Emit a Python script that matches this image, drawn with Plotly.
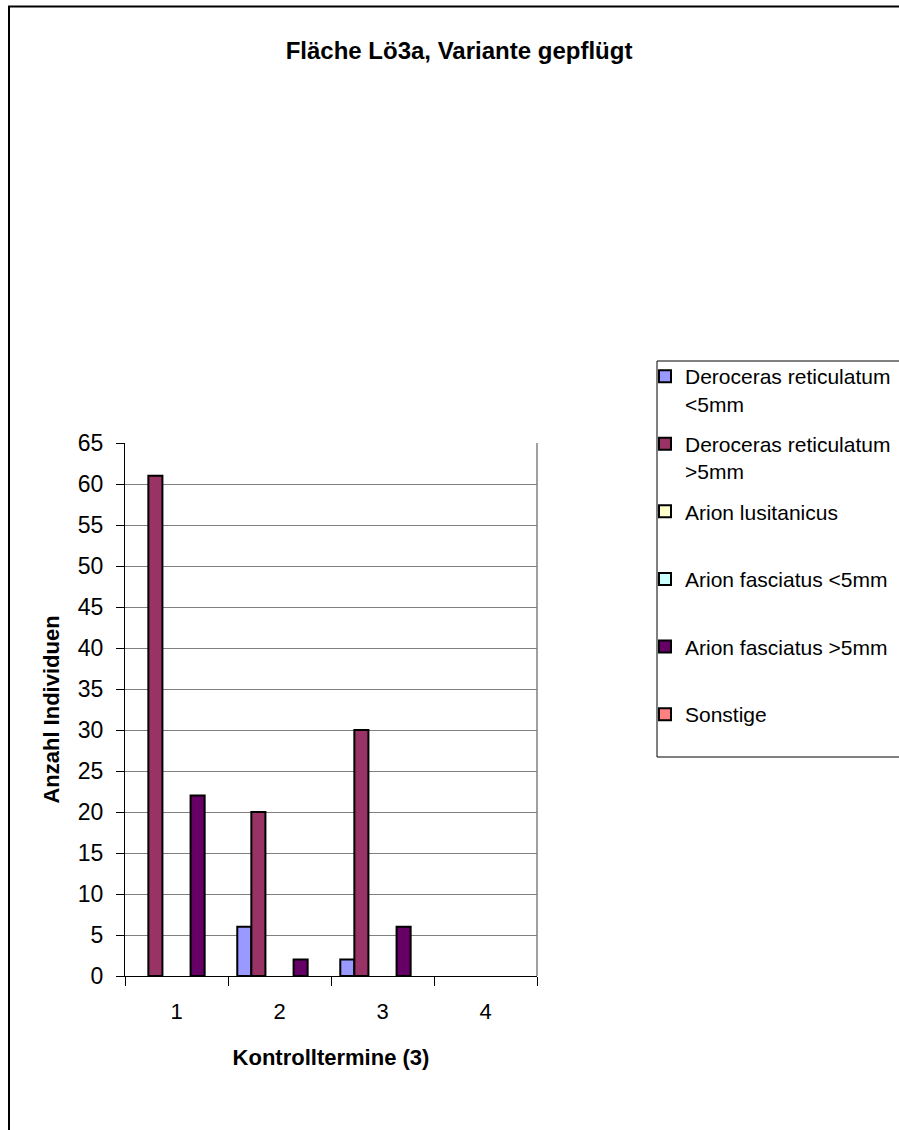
import plotly.graph_objects as go

categories = ["1", "2", "3", "4"]
series_names = [
    "Deroceras reticulatum<br>&lt;5mm",
    "Deroceras reticulatum<br>&gt;5mm",
    "Arion lusitanicus<br> ",
    "Arion fasciatus &lt;5mm<br> ",
    "Arion fasciatus &gt;5mm<br> ",
    "Sonstige<br> ",
]
dr_small = [0, 6, 2, 0]
dr_large = [61, 20, 30, 0]
arion_lus = [0, 0, 0, 0]
af_small = [0, 0, 0, 0]
af_large = [22, 2, 6, 0]
sonstige = [0, 0, 0, 0]
series_values = [dr_small, dr_large, arion_lus, af_small, af_large, sonstige]
colors = ["#9999FF", "#993366", "#FFFFCC", "#CCFFFF", "#660066", "#FF8080"]

W, H = 899, 1130
L, R, T, B = 125, 537, 443, 976  # plot area in pixels
FONT = "Arial, Liberation Sans, sans-serif"

def px_x(p):
    return (p - L) / (R - L)

def px_y(p):
    return (B - p) / (B - T)

fig = go.Figure()
for i, (name, vals, col) in enumerate(zip(series_names, series_values, colors)):
    fig.add_trace(go.Bar(
        x=categories, y=[v if v else None for v in vals], name=name,
        marker=dict(color=col, line=dict(color="black", width=2)),
        legendgroup=f"g{i}",
    ))

fig.update_layout(
    width=W, height=H,
    margin=dict(l=L, r=W - R, t=T, b=H - B, autoexpand=False),
    paper_bgcolor="white", plot_bgcolor="white",
    font=dict(family=FONT, color="black"),
    barmode="group", bargap=0.18, bargroupgap=0,
    title=dict(text="<b>Fläche Lö3a, Variante gepflügt</b>", x=459 / W, xref="container",
               xanchor="center", y=1 - 51 / H, yanchor="middle",
               font=dict(size=24, family=FONT)),
    showlegend=True,
    legend=dict(x=px_x(645), y=px_y(356), xanchor="left", yanchor="top",
                borderwidth=0, bgcolor="rgba(0,0,0,0)", font=dict(size=21, family=FONT),
                valign="top", tracegroupgap=10, traceorder="grouped"),
)

fig.update_xaxes(
    type="category", tickson="boundaries", ticks="outside", ticklen=9, tickcolor="black",
    showline=True, linecolor="black", linewidth=1, showgrid=False,
    tickfont=dict(size=22, family=FONT), ticklabelstandoff=16,
    title=dict(text="<b>Kontrolltermine (3)</b>", font=dict(size=22, family=FONT), standoff=26),
    automargin=False,
)
fig.update_yaxes(
    range=[0, 65], dtick=5, tick0=0, ticks="outside", ticklen=8, tickcolor="black",
    showline=True, linecolor="black", linewidth=1,
    showgrid=True, gridcolor="#808080", gridwidth=1, zeroline=False,
    tickfont=dict(size=23, family=FONT), ticklabelstandoff=8,
    title=dict(text="<b>Anzahl Individuen</b>", font=dict(size=22, family=FONT), standoff=12),
    automargin=False,
)

# right border of plot area
fig.add_shape(type="line", xref="paper", yref="paper", x0=1, x1=1, y0=0, y1=1,
              line=dict(color="#808080", width=1.5))
# legend box
fig.add_shape(type="rect", xref="paper", yref="paper",
              x0=px_x(657), x1=px_x(910), y0=px_y(757), y1=px_y(361),
              line=dict(color="black", width=1), layer="below")
# outer chart border
fig.add_shape(type="rect", xref="paper", yref="paper",
              x0=px_x(9), x1=px_x(920), y0=px_y(1150), y1=px_y(6.5),
              line=dict(color="black", width=2), layer="below")

fig.write_html("out.html", config={"displayModeBar": False},
               post_script="document.body.style.margin='0';")
